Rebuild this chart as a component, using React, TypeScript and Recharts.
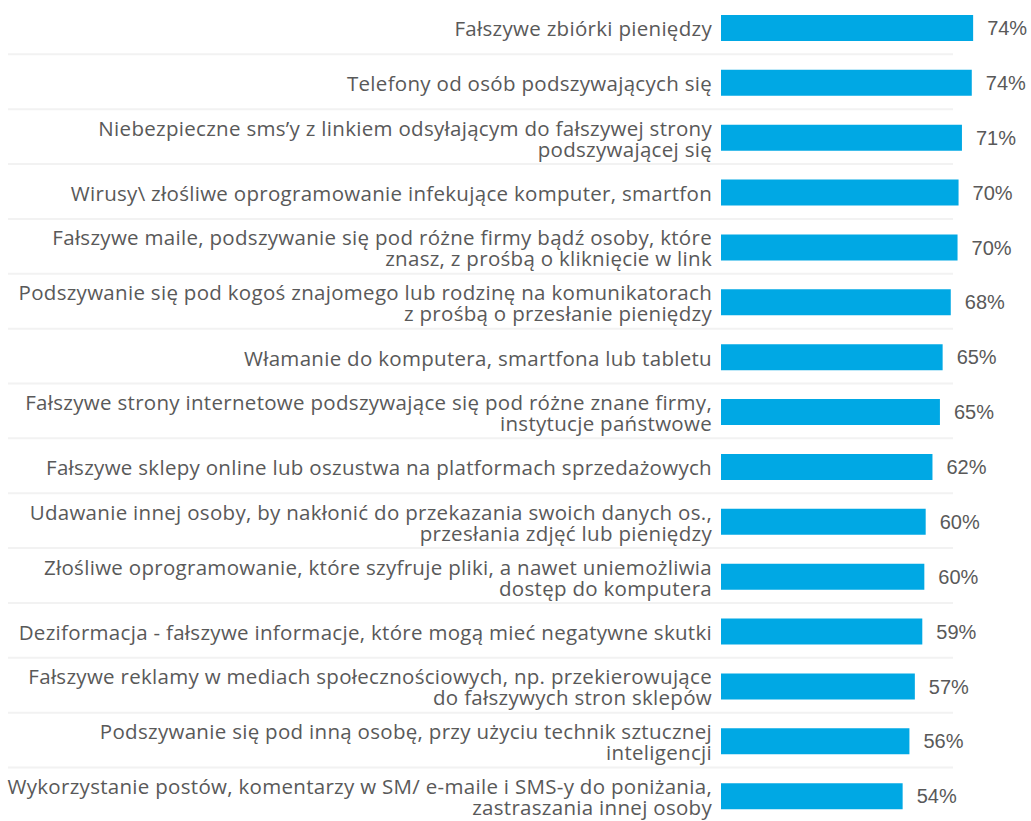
import { BarChart, Bar, XAxis, YAxis, LabelList } from "recharts";

const categories = [
  "Fałszywe zbiórki pieniędzy",
  "Telefony od osób podszywających się",
  "Niebezpieczne sms’y z linkiem odsyłającym do fałszywej strony\npodszywającej się",
  "Wirusy\\ złośliwe oprogramowanie infekujące komputer, smartfon",
  "Fałszywe maile, podszywanie się pod różne firmy bądź osoby, które\nznasz, z prośbą o kliknięcie w link",
  "Podszywanie się pod kogoś znajomego lub rodzinę na komunikatorach\nz prośbą o przesłanie pieniędzy",
  "Włamanie do komputera, smartfona lub tabletu",
  "Fałszywe strony internetowe podszywające się pod różne znane firmy,\ninstytucje państwowe",
  "Fałszywe sklepy online lub oszustwa na platformach sprzedażowych",
  "Udawanie innej osoby, by nakłonić do przekazania swoich danych os.,\nprzesłania zdjęć lub pieniędzy",
  "Złośliwe oprogramowanie, które szyfruje pliki, a nawet uniemożliwia\ndostęp do komputera",
  "Deziformacja - fałszywe informacje, które mogą mieć negatywne skutki",
  "Fałszywe reklamy w mediach społecznościowych, np. przekierowujące\ndo fałszywych stron sklepów",
  "Podszywanie się pod inną osobę, przy użyciu technik sztucznej\ninteligencji",
  "Wykorzystanie postów, komentarzy w SM/ e-maile i SMS-y do poniżania,\nzastraszania innej osoby",
];

const values = [
  74.4, 74.0, 71.1, 70.1, 69.8, 67.8, 65.4, 64.6, 62.4, 60.4, 60.0, 59.4, 57.2, 55.6, 53.6,
];

const data = categories.map((name, i) => ({ name, value: values[i] }));

const TEXT = "#595959";

const CategoryTick = ({ x, y, payload, index }: any) => {
  const lines: string[] = String(payload.value).split("\n");
  const lineHeight = 21;
  const startY = y - ((lines.length - 1) * lineHeight) / 2;
  return (
    <g>
      {index > 0 && (
        <line x1={8} x2={953} y1={y - 29} y2={y - 29} stroke="#f2f2f2" strokeWidth={2} />
      )}
      <text
        x={x}
        y={startY}
        textAnchor="end"
        dominantBaseline="central"
        fill={TEXT}
        fontSize={20.5}
        letterSpacing={0.3}
        fontFamily="'Open Sans', sans-serif"
      >
        {lines.map((line, i) => (
          <tspan key={i} x={x} y={startY + i * lineHeight}>
            {line}
          </tspan>
        ))}
      </text>
    </g>
  );
};

export default function App() {
  return (
    <div
      style={{
        position: "absolute",
        left: 0,
        top: 0,
        width: 1031,
        height: 821,
        overflow: "hidden",
        background: "#fff",
      }}
    >
      <BarChart
        width={1031}
        height={825}
        data={data}
        layout="vertical"
        margin={{ top: 1, right: 5, left: 0, bottom: 1 }}
      >
        <XAxis type="number" domain={[0, 90]} hide />
        <YAxis
          type="category"
          dataKey="name"
          width={721}
          axisLine={false}
          tickLine={false}
          tickSize={0}
          tickMargin={9}
          interval={0}
          tick={<CategoryTick />}
        />
        <Bar dataKey="value" fill="#00a8e4" barSize={26} isAnimationActive={false}>
          <LabelList
            dataKey="value"
            position="right"
            offset={14}
            formatter={(v: any) => `${Math.round(Number(v))}%`}
            fill={TEXT}
            fontSize={20}
            fontFamily="'Liberation Sans', Arial, sans-serif"
          />
        </Bar>
      </BarChart>
    </div>
  );
}
